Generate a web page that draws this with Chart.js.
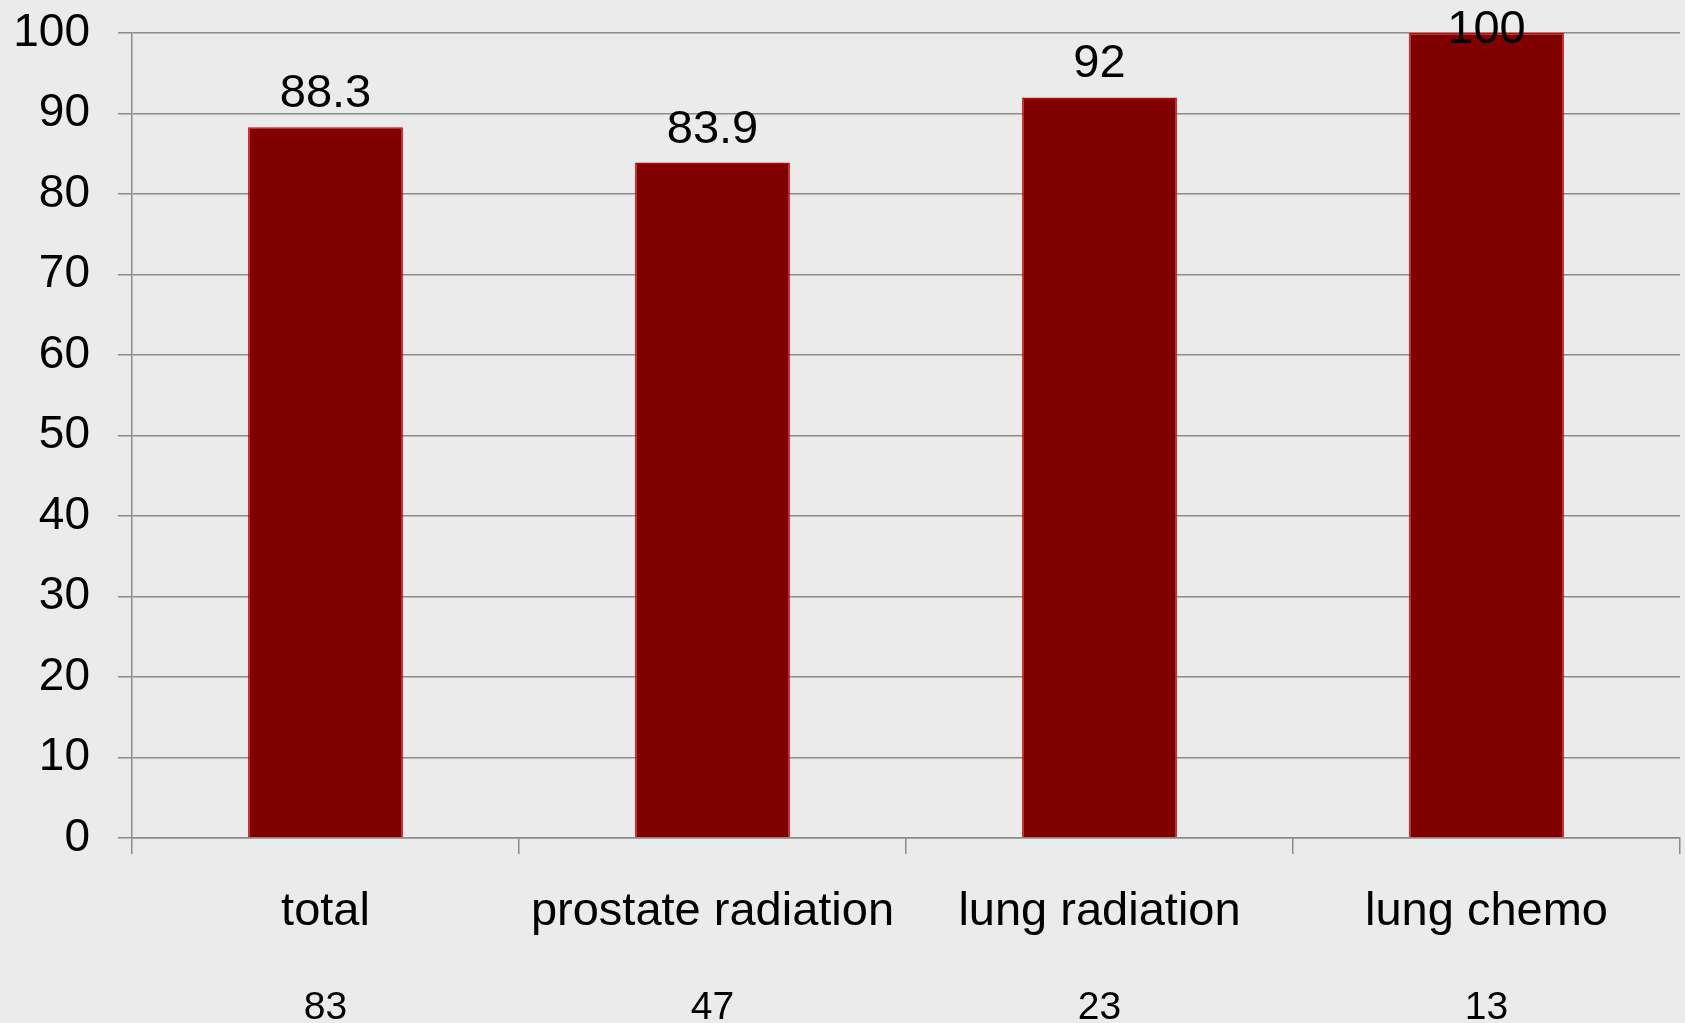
<!DOCTYPE html>
<html>
<head>
<meta charset="utf-8">
<script src="https://cdn.jsdelivr.net/npm/chart.js@4"></script>
<style>
  html, body { margin: 0; padding: 0; background: #ebebeb; }
  #wrap { width: 1685px; height: 1023px; }
</style>
</head>
<body>
<div id="wrap"><canvas id="barChart"></canvas></div>
<script>
const categories = ['total', 'prostate radiation', 'lung radiation', 'lung chemo'];
const values = [88.3, 83.9, 92, 100];
const counts = [83, 47, 23, 13];
const yTicks = { min: 0, max: 100, step: 10 };

const fontFamily = '"Liberation Sans", Arial, sans-serif';
const gridColor = '#8c8c8c';

// value labels above the bars, counts under the category names
const labelsPlugin = {
    id: 'labels',
    afterDatasetsDraw(chart) {
        const ctx = chart.ctx;
        const meta = chart.getDatasetMeta(0);
        ctx.save();
        ctx.fillStyle = '#000';
        ctx.textAlign = 'center';
        ctx.textBaseline = 'alphabetic';
        ctx.font = '47px ' + fontFamily;
        meta.data.forEach((bar, i) => {
            const y = Math.max(bar.y - 20, 43);
            ctx.fillText(String(values[i]), bar.x, y);
        });
        ctx.font = '39px ' + fontFamily;
        const xScale = chart.scales.x;
        counts.forEach((c, i) => {
            ctx.fillText(String(c), xScale.getPixelForValue(i), 1019);
        });
        ctx.restore();
    }
};

const barChart = new Chart(document.getElementById('barChart'), {
    type: 'bar',
    data: {
        labels: categories,
        datasets: [{
            data: values,
            backgroundColor: '#800000',
            borderColor: '#d40000',
            borderWidth: 1.5,
            barPercentage: 0.4,
            categoryPercentage: 1
        }]
    },
    options: {
        responsive: true,
        maintainAspectRatio: false,
        animation: false,
        layout: { padding: { top: 33, right: 5, left: 0, bottom: 0 } },
        plugins: {
            legend: { display: false },
            tooltip: { enabled: false }
        },
        scales: {
            x: {
                afterFit(scale) { scale.height = 185; },
                grid: {
                    offset: true,
                    drawOnChartArea: false,
                    color: gridColor,
                    lineWidth: 1.5,
                    tickLength: 16
                },
                border: { display: true, color: gridColor, width: 1.5 },
                ticks: {
                    color: '#000',
                    padding: 30,
                    maxRotation: 0,
                    font: { family: fontFamily, size: 47 }
                }
            },
            y: {
                min: yTicks.min,
                max: yTicks.max,
                afterFit(scale) { scale.width = 132; },
                grid: {
                    color: gridColor,
                    lineWidth: 1.5,
                    tickLength: 14
                },
                border: { display: true, color: gridColor, width: 1.5 },
                ticks: {
                    stepSize: yTicks.step,
                    color: '#000',
                    padding: 28,
                    font: { family: fontFamily, size: 46, lineHeight: 0.1 }
                }
            }
        }
    },
    plugins: [labelsPlugin]
});
</script>
</body>
</html>
